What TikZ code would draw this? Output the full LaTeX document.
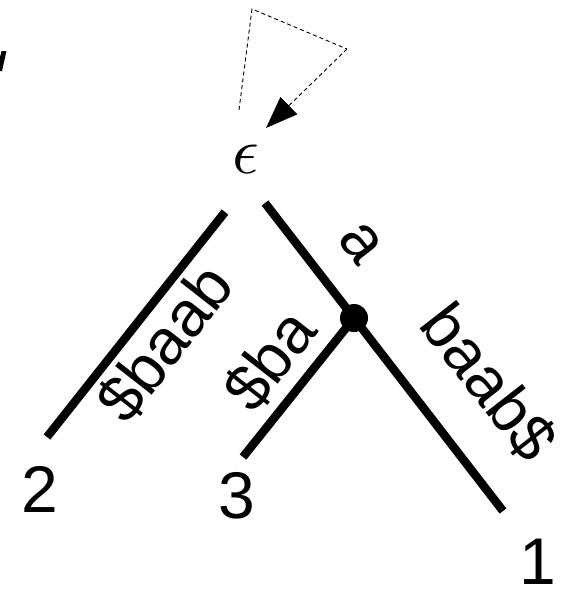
\documentclass[tikz,border=0pt]{standalone}
\usepackage{fontspec}
\setmainfont{Liberation Sans}
\usetikzlibrary{arrows.meta}
\begin{document}
\begin{tikzpicture}[x=1pt,y=-1pt,
  edge/.style={line width=8.5pt},
  lbl/.style={font=\fontsize{64}{64}\selectfont, inner sep=0pt},
  num/.style={font=\fontsize{66}{66}\selectfont, inner sep=0pt},
  loopline/.style={dash pattern=on 4pt off 3pt, line width=0.9pt}]
\useasboundingbox (0,0) rectangle (575,589);
% clipped fragment at the top-left edge
\fill (1.5,51) -- (6.5,51) -- (2,71) -- (0,71) -- (0,57) -- cycle;
% root and its self loop
\node[inner sep=0pt] (root) at (246,159) {\scalebox{6.6}{$\epsilon$}};
\coordinate (lp1) at (239,110);
\coordinate (lp2) at (252,9);
\coordinate (lp3) at (347,49);
\coordinate (lptip) at (266,128);
\draw[loopline] (lp1) -- (lp2) -- (lp3);
\draw[loopline, -{Triangle[length=32pt,width=24pt]}] (lp3) -- (lptip);
% tree
\coordinate (rootL) at (225,212);
\coordinate (rootR) at (265,203);
\node[circle, fill, inner sep=0pt, minimum size=28pt] (mid) at (354,318) {};
\coordinate (leaf2) at (47,437);
\coordinate (leaf3) at (243,457);
\coordinate (leaf1) at (503,511);
\draw[edge] (rootL) -- (leaf2);
\draw[edge] (rootR) -- (mid.center);
\draw[edge] (mid.center) -- (leaf1);
\draw[edge] (mid.center) -- (leaf3);
% edge labels
\node[lbl, rotate=-52] (la) at (361,243) {a};
\node[lbl, rotate=52] (lbaab) at (165,343) {\$baab};
\node[lbl, rotate=52] (lba) at (270,360) {\$ba};
\node[lbl, rotate=-52] (lbaabd) at (489,382) {baab\$};
% leaf numbers
\node[num] (n2) at (40,489) {2};
\node[num] (n3) at (237,496) {3};
\node[num] (n1) at (538,562) {1};
\end{tikzpicture}
\end{document}
